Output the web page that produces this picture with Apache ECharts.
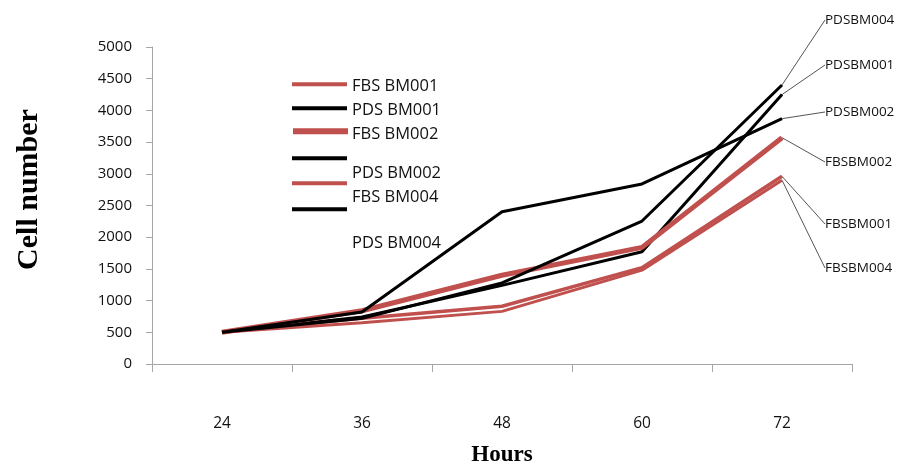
<!DOCTYPE html>
<html>
<head>
<meta charset="utf-8">
<script src="https://cdn.jsdelivr.net/npm/echarts@6/dist/echarts.min.js"></script>
<style>
  html, body { margin: 0; padding: 0; background: #ffffff; }
  #chart { width: 901px; height: 465px; }
</style>
</head>
<body>
<div id="chart"></div>
<script>
// ---- data ----
const hours = ['24', '36', '48', '60', '72'];
const seriesNames = ['FBS BM001', 'PDS BM001', 'FBS BM002', 'PDS BM002', 'FBS BM004', 'PDS BM004'];
const endTags = ['FBSBM001', 'PDSBM001', 'FBSBM002', 'PDSBM002', 'FBSBM004', 'PDSBM004'];
const fbsBM001 = [500, 720, 910, 1520, 2960];
const pdsBM001 = [500, 740, 1240, 1770, 4250];
const fbsBM002 = [500, 840, 1400, 1840, 3570];
const pdsBM002 = [500, 820, 2400, 2840, 3870];
const fbsBM004 = [500, 650, 830, 1480, 2900];
const pdsBM004 = [500, 720, 1280, 2255, 4400];
const yTicks = [0, 500, 1000, 1500, 2000, 2500, 3000, 3500, 4000, 4500, 5000];

// ---- styles ----
const RED = '#c0504d';
const BLACK = '#000000';
const values = [fbsBM001, pdsBM001, fbsBM002, pdsBM002, fbsBM004, pdsBM004];
const colors = [RED, BLACK, RED, BLACK, RED, BLACK];
const widths = [3.5, 3, 5, 3, 3, 3];
const legendLineY = [86, 110, 133, 160, 185, 211];
const legendTextY = [86, 110, 134, 173, 197, 243];
const tagY = [224, 65, 162, 112, 268, 20];

const chart = echarts.init(document.getElementById('chart'), null, { renderer: 'canvas' });
const last = hours.length - 1;

const series = seriesNames.map((name, s) => ({
  name: name,
  type: 'line',
  symbol: 'none',
  showSymbol: true,
  smooth: false,
  z: 2 + s,
  lineStyle: { color: colors[s], width: widths[s] },
  itemStyle: { color: colors[s] },
  data: values[s].map((v, i) => i === last ? {
    value: v,
    symbol: 'circle',
    symbolSize: 1,
    label: {
      show: true,
      formatter: endTags[s],
      fontFamily: 'Open Sans',
      fontSize: 13.5,
      color: '#111'
    },
    labelLine: { show: true, lineStyle: { color: '#555', width: 1 } }
  } : v),
  labelLayout: function () {
    return { x: 825, y: tagY[s], align: 'left', verticalAlign: 'middle' };
  }
}));

// legend line samples (no text)
const iconLegends = seriesNames.map((name, s) => ({
  data: [name],
  left: 290,
  top: legendLineY[s] - 9,
  padding: 0,
  itemWidth: 55,
  itemHeight: 18,
  selectedMode: false,
  formatter: () => '',
  itemStyle: { color: 'rgba(0,0,0,0)', borderWidth: 0, opacity: 0 },
  lineStyle: { width: s === 2 ? 6 : 4 },
  textStyle: { fontSize: 12, lineHeight: 18 }
}));

// legend names (no line sample)
const textLegends = seriesNames.map((name, s) => ({
  data: [name],
  left: 347,
  top: legendTextY[s] - 10,
  padding: 0,
  icon: 'rect',
  itemWidth: 0,
  itemHeight: 0,
  selectedMode: false,
  itemStyle: { opacity: 0 },
  lineStyle: { opacity: 0 },
  textStyle: {
    fontFamily: 'Open Sans',
    fontSize: 16.5,
    color: '#111',
    lineHeight: 20
  }
}));

chart.setOption({
  animation: false,
  backgroundColor: '#ffffff',
  grid: { left: 152, right: 49, top: 47, bottom: 101, containLabel: false, outerBoundsMode: 'none' },
  legend: iconLegends.concat(textLegends),
  xAxis: {
    type: 'category',
    data: hours,
    boundaryGap: true,
    name: 'Hours',
    nameLocation: 'middle',
    nameGap: 80,
    nameTextStyle: { fontFamily: 'Liberation Serif', fontWeight: 'bold', fontSize: 23, color: '#000' },
    axisLine: { show: true, lineStyle: { color: '#a6a6a6', width: 1 } },
    axisTick: { show: true, alignWithLabel: false, length: 8, lineStyle: { color: '#a6a6a6' } },
    axisLabel: { margin: 52, fontFamily: 'Open Sans', fontSize: 15.5, color: '#111' },
    splitLine: { show: false }
  },
  yAxis: {
    type: 'value',
    min: 0,
    max: 5000,
    interval: 500,
    name: 'Cell number',
    nameLocation: 'middle',
    nameGap: 108,
    nameTextStyle: {
      fontFamily: 'Liberation Serif', fontWeight: 'bold', fontSize: 30, color: '#000',
      padding: [0, 0, 0, 32]
    },
    axisLine: { show: true, lineStyle: { color: '#a6a6a6', width: 1 } },
    axisTick: { show: true, length: 6, lineStyle: { color: '#a6a6a6' } },
    axisLabel: {
      margin: 20,
      fontFamily: 'Open Sans',
      fontSize: 15,
      color: '#111',
      formatter: v => yTicks.indexOf(v) >= 0 ? String(v) : ''
    },
    splitLine: { show: false }
  },
  series: series
});
</script>
</body>
</html>
